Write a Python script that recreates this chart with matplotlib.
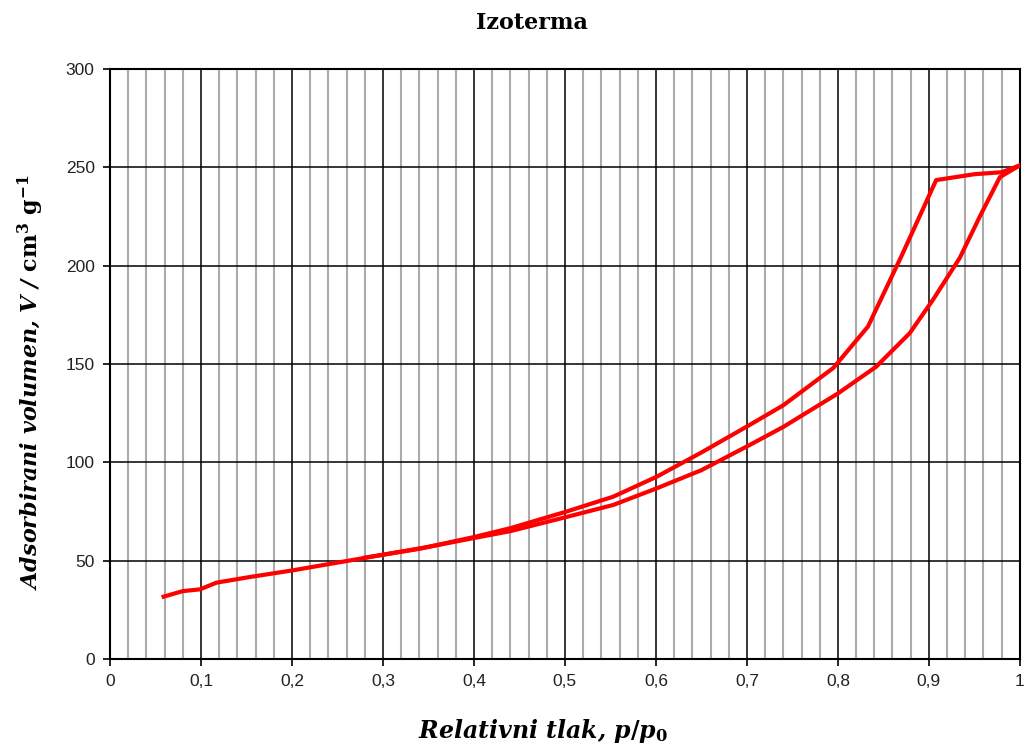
import numpy as np
import matplotlib
matplotlib.use("Agg")
import matplotlib.pyplot as plt
from matplotlib.ticker import MultipleLocator, FuncFormatter

# adsorption branch (lower curve)
ads_p = [0.059, 0.08, 0.099, 0.117, 0.154, 0.2, 0.25, 0.3, 0.35, 0.4, 0.44, 0.5,
         0.553, 0.601, 0.65, 0.703, 0.74, 0.8, 0.842, 0.879, 0.905, 0.934, 0.956,
         0.978, 1.0]
ads_v = [31.7, 34.5, 35.4, 38.8, 41.7, 45, 49, 53, 57, 61.5, 65, 72,
         78.3, 86.8, 96, 108.8, 118, 135, 148.6, 165.7, 183, 204, 225,
         245, 251]

# desorption branch (upper curve)
des_p = [1.0, 0.98, 0.95, 0.908, 0.87, 0.833, 0.795, 0.74, 0.703, 0.65, 0.601,
         0.553, 0.502, 0.44, 0.4, 0.34, 0.28]
des_v = [251, 247.5, 246.5, 243.5, 205, 169, 148, 129, 119, 105, 92.7,
         82.5, 75, 66.5, 62, 56, 51.5]

serif = 'DejaVu Serif'
plt.rcParams['mathtext.fontset'] = 'custom'
plt.rcParams['mathtext.rm'] = serif + ':bold'
plt.rcParams['mathtext.it'] = serif + ':bold:italic'
plt.rcParams['mathtext.bf'] = serif + ':bold'

fig = plt.figure(figsize=(10.25, 7.49), dpi=100)
ax = fig.add_axes([0.1073, 0.1202, 0.8877, 0.7877])

ax.plot(ads_p, ads_v, color='#ff0000', lw=3, solid_joinstyle='round', zorder=3)
ax.plot(des_p, des_v, color='#ff0000', lw=3, solid_joinstyle='round', zorder=3)

ax.set_xlim(0, 1)
ax.set_ylim(0, 300)
ax.xaxis.set_major_locator(MultipleLocator(0.1))
ax.xaxis.set_minor_locator(MultipleLocator(0.02))
ax.yaxis.set_major_locator(MultipleLocator(50))

def comma_fmt(x, pos):
    s = f"{x:.1f}".rstrip('0').rstrip('.')
    return s.replace('.', ',')

ax.xaxis.set_major_formatter(FuncFormatter(comma_fmt))

ax.grid(which='minor', axis='x', color='#ababab', lw=1.5)
ax.grid(which='major', axis='both', color='black', lw=1.1)
ax.set_axisbelow(True)

for s in ax.spines.values():
    s.set_linewidth(1.5)

ax.tick_params(which='major', direction='out', length=5, width=1.2,
               labelsize=12.5, pad=6)
ax.tick_params(which='minor', length=0)
for lab in ax.get_xticklabels() + ax.get_yticklabels():
    lab.set_family('Liberation Sans')
    lab.set_color('#222222')

fig.text(0.519, 0.969, 'Izoterma', ha='center', va='center',
         family=serif, weight='bold', fontsize=16)
ax.set_xlabel(r'Relativni tlak, $p/p_0$', family=serif,
              weight='bold', style='italic', fontsize=17)
ax.set_ylabel(r'Adsorbirani volumen, V / $\mathrm{cm^3\ g^{-1}}$',
              family=serif, weight='bold', style='italic', fontsize=16)
ax.xaxis.set_label_coords(0.476, -0.098)
ax.yaxis.set_label_coords(-0.07, 0.469)

fig.savefig('out.png', dpi=100)
